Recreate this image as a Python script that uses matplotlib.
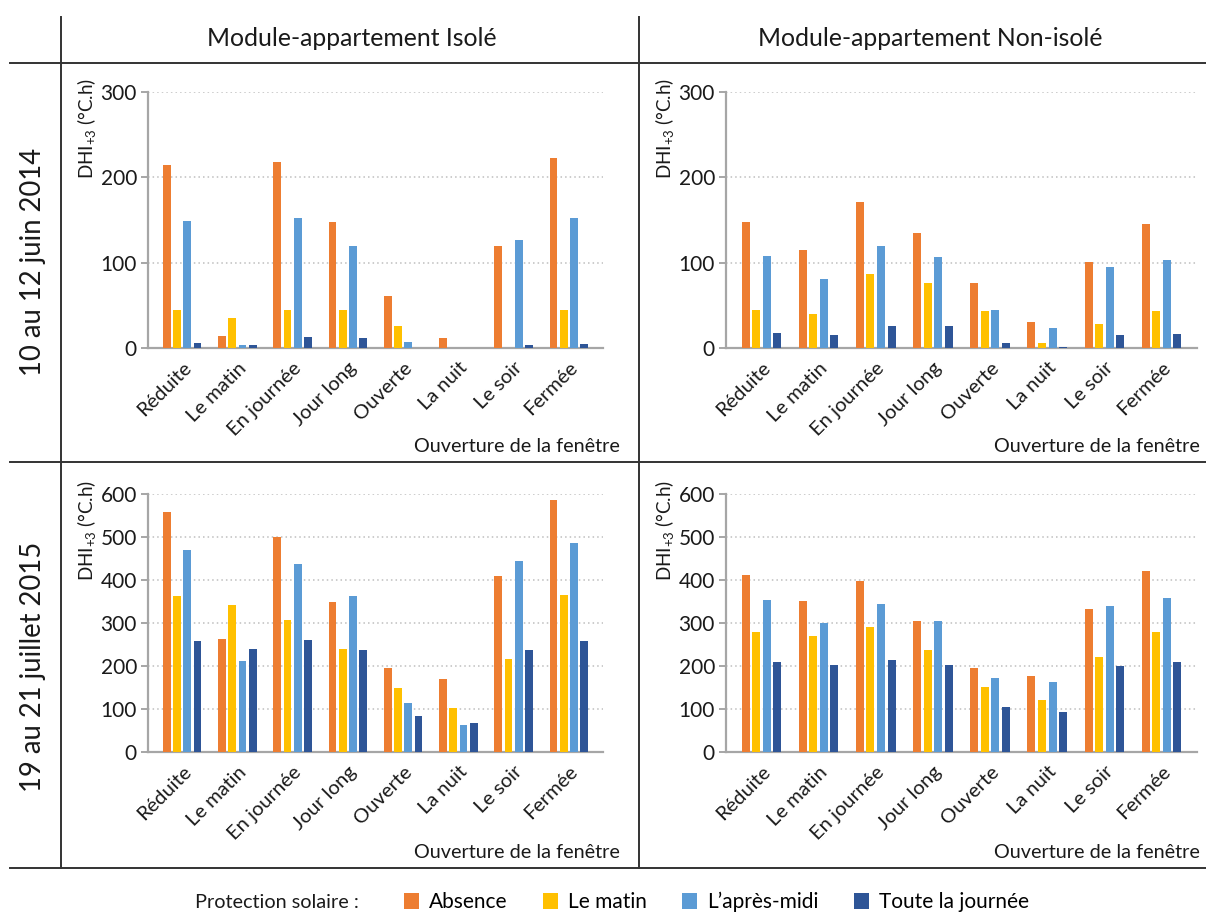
import matplotlib
matplotlib.use("Agg")
import matplotlib.pyplot as plt
import numpy as np
from matplotlib.lines import Line2D
from matplotlib.patches import Patch

plt.rcParams['font.family'] = ['Lato', 'DejaVu Sans']
plt.rcParams['mathtext.fontset'] = 'custom'
plt.rcParams['mathtext.rm'] = 'Lato'
plt.rcParams['mathtext.it'] = 'Lato'

categories = ["Réduite", "Le matin", "En journée", "Jour long", "Ouverte", "La nuit", "Le soir", "Fermée"]
series_names = ["Absence", "Le matin", "L’après-midi", "Toute la journée"]
colors = ["#ED7D31", "#FFC000", "#5B9BD5", "#2E5597"]

# 10 au 12 juin 2014 - Isolé
iso_2014_absence = [215, 14.5, 218, 148, 61, 12, 120, 223]
iso_2014_matin = [45, 35, 45, 44, 26, 0, 0, 44]
iso_2014_apm = [149, 4, 152, 119, 7.5, 0, 127, 152.5]
iso_2014_journee = [5.5, 3.5, 13, 12, 0, 0, 4, 5]

# 10 au 12 juin 2014 - Non-isolé
non_2014_absence = [148, 115, 171, 135, 76, 30.5, 101, 145]
non_2014_matin = [44.5, 40, 87, 76, 43, 6, 28.5, 43]
non_2014_apm = [108, 80.5, 120, 107, 44, 23, 95.5, 103.5]
non_2014_journee = [17.5, 15.5, 26, 26, 6, 1, 15.5, 16.5]

# 19 au 21 juillet 2015 - Isolé
iso_2015_absence = [558, 263, 499, 349, 196, 170, 410, 585]
iso_2015_matin = [362, 341, 308, 240, 148, 103, 216, 365]
iso_2015_apm = [469, 211, 438, 362, 113, 63, 445, 487]
iso_2015_journee = [257, 240, 260, 238, 84, 67, 238, 257]

# 19 au 21 juillet 2015 - Non-isolé
non_2015_absence = [412, 352, 397, 305, 196, 177, 332, 421]
non_2015_matin = [279, 270, 291, 237, 151, 120, 221, 279]
non_2015_apm = [354, 301, 345, 305, 172, 163, 339, 359]
non_2015_journee = [210, 203, 215, 203, 104, 94, 200, 210]

col_titles = ["Module-appartement Isolé", "Module-appartement Non-isolé"]
row_titles = ["10 au 12 juin 2014", "19 au 21 juillet 2015"]
ylabel = "DHI$_{+3}$ (°C.h)"
xlabel = "Ouverture de la fenêtre"
legend_title = "Protection solaire :"

W, H = 1206, 914
fig = plt.figure(figsize=(W / 100, H / 100), dpi=100)


def fx(px):
    return px / W


def fy(py):
    return 1 - py / H


def add_ax(x0, x1, ytop, ybot):
    return fig.add_axes([fx(x0), fy(ybot), fx(x1 - x0), (ybot - ytop) / H])


panels = [
    (add_ax(148, 603, 92, 348), [iso_2014_absence, iso_2014_matin, iso_2014_apm, iso_2014_journee], 300, 100, 620, 86),
    (add_ax(726, 1197, 92, 348), [non_2014_absence, non_2014_matin, non_2014_apm, non_2014_journee], 300, 100, 1200, 664),
    (add_ax(148, 603, 494, 752), [iso_2015_absence, iso_2015_matin, iso_2015_apm, iso_2015_journee], 600, 100, 620, 86),
    (add_ax(726, 1197, 494, 752), [non_2015_absence, non_2015_matin, non_2015_apm, non_2015_journee], 600, 100, 1200, 664),
]
xlabel_y = [447, 447, 853, 853]
ylabel_top = [78, 78, 480, 480]

x = np.arange(len(categories))
pitch = 0.185
width = 0.14
for i, (ax, series, ymax, step, xl_right, yl_x) in enumerate(panels):
    for k, vals in enumerate(series):
        ax.bar(x + (k - 1.5) * pitch, vals, width=width, color=colors[k], zorder=3)
    ax.set_xlim(-0.62, len(categories) - 0.38)
    ax.set_ylim(0, ymax)
    ax.set_yticks(np.arange(0, ymax + 1, step))
    ax.yaxis.grid(True, linestyle=(0, (1, 2)), color="#BFBFBF", linewidth=1.1, zorder=0)
    ax.set_axisbelow(True)
    for s in ["top", "right"]:
        ax.spines[s].set_visible(False)
    ax.spines["left"].set_color("#A6A6A6")
    ax.spines["bottom"].set_color("#A6A6A6")
    ax.spines["left"].set_linewidth(1.6)
    ax.spines["bottom"].set_linewidth(1.6)
    ax.tick_params(axis="y", length=5, width=1.4, color="#A6A6A6", labelsize=15, pad=3, labelcolor="#1a1a1a")
    ax.tick_params(axis="x", length=0, labelsize=14.5, pad=8, labelcolor="#1a1a1a")
    ax.set_xticks(x)
    ax.set_xticklabels(categories, rotation=45, ha="right", rotation_mode="anchor")
    fig.text(fx(xl_right), fy(xlabel_y[i]), xlabel, ha="right", va="center", fontsize=14.3, color="#1a1a1a")
    fig.text(fx(yl_x), fy(ylabel_top[i]), ylabel, rotation=90, ha="center", va="top", fontsize=13.5, color="#1a1a1a")

# column titles
fig.text(fx(352), fy(39), col_titles[0], ha="center", va="center", fontsize=17.8, color="#1a1a1a")
fig.text(fx(930), fy(39), col_titles[1], ha="center", va="center", fontsize=17.8, color="#1a1a1a")
# row titles
fig.text(fx(33), fy(262), row_titles[0], ha="center", va="center", rotation=90, fontsize=19.8, color="#1a1a1a")
fig.text(fx(33), fy(667), row_titles[1], ha="center", va="center", rotation=90, fontsize=19.8, color="#1a1a1a")

# table lines
lc = "#333333"
lw = 1.4
fig.add_artist(Line2D([fx(10), fx(1206)], [fy(63), fy(63)], color=lc, lw=lw))
fig.add_artist(Line2D([fx(10), fx(1206)], [fy(462), fy(462)], color=lc, lw=lw))
fig.add_artist(Line2D([fx(10), fx(1206)], [fy(868), fy(868)], color=lc, lw=lw))
fig.add_artist(Line2D([fx(61), fx(61)], [fy(17), fy(868)], color=lc, lw=lw))
fig.add_artist(Line2D([fx(639), fx(639)], [fy(17), fy(868)], color=lc, lw=lw))

# legend
fig.text(fx(195), fy(902), legend_title, ha="left", va="center", fontsize=14.3, color="#1a1a1a")
handles = [Patch(facecolor=c, edgecolor="none") for c in colors]
fig.legend(handles, series_names, loc="center left", bbox_to_anchor=(fx(404), fy(902)),
           ncol=4, frameon=False, fontsize=15, handlelength=0.7, handleheight=0.75,
           handletextpad=0.5, columnspacing=1.7, borderpad=0, borderaxespad=0)

fig.savefig("out.png", dpi=100)
